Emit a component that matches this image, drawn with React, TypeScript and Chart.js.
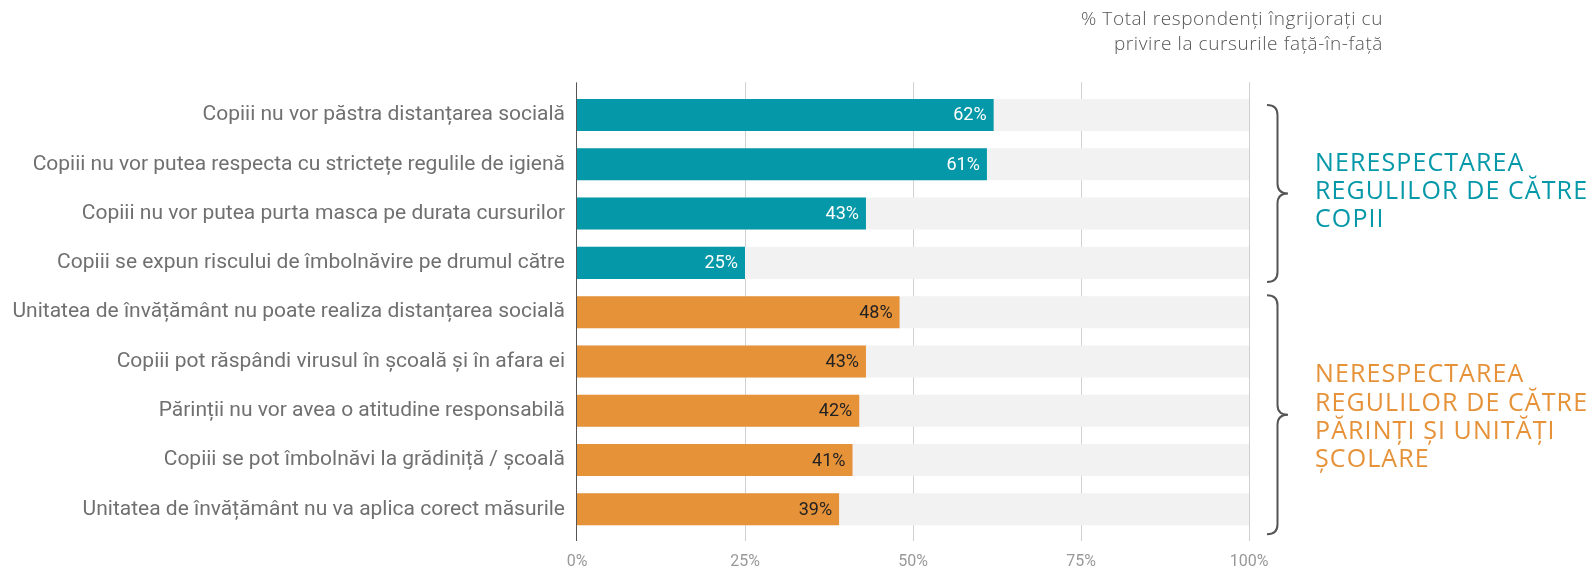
import React, { useEffect, useRef } from 'react';
import { Chart, registerables } from 'chart.js';

Chart.register(...registerables);

const categories = [
  'Copiii nu vor păstra distanțarea socială',
  'Copiii nu vor putea respecta cu strictețe regulile de igienă',
  'Copiii nu vor putea purta masca pe durata cursurilor',
  'Copiii se expun riscului de îmbolnăvire pe drumul către',
  'Unitatea de învățământ nu poate realiza distanțarea socială',
  'Copiii pot răspândi virusul în școală și în afara ei',
  'Părinții nu vor avea o atitudine responsabilă',
  'Copiii se pot îmbolnăvi la grădiniță / școală',
  'Unitatea de învățământ nu va aplica corect măsurile',
];
const values = [62, 61, 43, 25, 48, 43, 42, 41, 39];
const totals = [100, 100, 100, 100, 100, 100, 100, 100, 100];
const groupOf = [0, 0, 0, 0, 1, 1, 1, 1, 1];
const groupLabels = [
  ['NERESPECTAREA', 'REGULILOR DE CĂTRE', 'COPII'],
  ['NERESPECTAREA', 'REGULILOR DE CĂTRE', 'PĂRINȚI ȘI UNITĂȚI', 'ȘCOLARE'],
];
const groupColors = ['#0598a8', '#e69239'];
const valueLabelColors = ['#ffffff', '#222222'];
const xTickStep = 25;
const titleLines = ['% Total respondenți îngrijorați cu', 'privire la cursurile față-în-față'];

const bracePlugin = {
  id: 'decor',
  beforeDatasetsDraw(chart: any) {
    const { ctx, chartArea, scales } = chart;
    const x = scales.x;
    ctx.save();
    ctx.strokeStyle = '#d0d0d0';
    ctx.lineWidth = 1;
    for (let v = xTickStep; v <= 100; v += xTickStep) {
      const px = Math.round(x.getPixelForValue(v)) + 0.5;
      ctx.beginPath();
      ctx.moveTo(px, chartArea.top - 8);
      ctx.lineTo(px, chartArea.bottom + 7);
      ctx.stroke();
    }
    ctx.restore();
  },
  afterDatasetsDraw(chart: any) {
    const { ctx, chartArea, scales } = chart;
    const x = scales.x;
    const y = scales.y;
    ctx.save();
    // axis line at 0
    const x0 = Math.round(x.getPixelForValue(0)) - 0.5;
    ctx.strokeStyle = '#555555';
    ctx.lineWidth = 1;
    ctx.beginPath();
    ctx.moveTo(x0, chartArea.top - 8);
    ctx.lineTo(x0, chartArea.bottom + 7);
    ctx.stroke();

    // value labels
    const meta = chart.getDatasetMeta(1);
    ctx.font = '18px Roboto';
    ctx.textAlign = 'right';
    ctx.textBaseline = 'middle';
    meta.data.forEach((bar: any, i: number) => {
      ctx.fillStyle = valueLabelColors[groupOf[i]];
      ctx.fillText(values[i] + '%', bar.x - 7, bar.y + 1);
    });

    // braces and group labels
    const topOff = [-10, -17];
    const botOff = [19, 25];
    const textOff = [-1.5, 3];
    groupLabels.forEach((lines, g) => {
      const idx = groupOf.map((gg, i) => (gg === g ? i : -1)).filter((i) => i >= 0);
      const y0 = y.getPixelForValue(idx[0]) + topOff[g];
      const y1 = y.getPixelForValue(idx[idx.length - 1]) + botOff[g];
      const ym = (y0 + y1) / 2;
      const xs = chartArea.right + 18;
      const xv = chartArea.right + 28.5;
      const xt = chartArea.right + 39;
      const r = 10;
      ctx.strokeStyle = '#555555';
      ctx.lineWidth = 2;
      ctx.beginPath();
      ctx.moveTo(xs, y0);
      ctx.quadraticCurveTo(xv, y0, xv, y0 + r);
      ctx.lineTo(xv, ym - r);
      ctx.quadraticCurveTo(xv, ym, xt, ym);
      ctx.quadraticCurveTo(xv, ym, xv, ym + r);
      ctx.lineTo(xv, y1 - r);
      ctx.quadraticCurveTo(xv, y1, xs, y1);
      ctx.stroke();

      ctx.fillStyle = groupColors[g];
      ctx.font = '25px "Open Sans"';
      (ctx as any).letterSpacing = '1.1px';
      ctx.textAlign = 'left';
      ctx.textBaseline = 'middle';
      const n = lines.length;
      lines.forEach((ln, i) => {
        ctx.fillText(ln, chartArea.right + 66, ym + textOff[g] + (i - (n - 1) / 2) * 28.3);
      });
      (ctx as any).letterSpacing = '0px';
    });

    // title
    ctx.fillStyle = '#555555';
    ctx.font = '300 19px "Open Sans"';
    (ctx as any).letterSpacing = '0.6px';
    ctx.textAlign = 'right';
    ctx.textBaseline = 'alphabetic';
    titleLines.forEach((ln, i) => {
      ctx.fillText(ln, chartArea.right + 134, 25 + i * 25);
    });
    (ctx as any).letterSpacing = '0px';
    ctx.restore();
  },
};

export default function App() {
  const ref = useRef<HTMLCanvasElement | null>(null);
  useEffect(() => {
    if (!ref.current) return;
    const chart = new Chart(ref.current, {
      type: 'bar',
      data: {
        labels: categories,
        datasets: [
          {
            label: 'Total',
            data: totals,
            backgroundColor: '#f2f2f2',
            order: 2,
            grouped: false,
            barPercentage: 0.65,
            categoryPercentage: 1,
          } as any,
          {
            label: 'Respondenți',
            data: values,
            backgroundColor: values.map((_, i) => groupColors[groupOf[i]]),
            order: 1,
            grouped: false,
            barPercentage: 0.65,
            categoryPercentage: 1,
          } as any,
        ],
      },
      options: {
        indexAxis: 'y',
        animation: false,
        responsive: true,
        maintainAspectRatio: false,
        layout: { padding: { top: 90.35, right: 343, bottom: 0, left: 0 } },
        plugins: { legend: { display: false }, tooltip: { enabled: false } },
        scales: {
          x: {
            min: 0,
            max: 100,
            afterFit: (s: any) => {
              s.height = 33;
            },
            grid: { display: false, drawTicks: false },
            border: { display: false },
            ticks: {
              stepSize: xTickStep,
              callback: (v: any) => v + '%',
              font: { family: 'Roboto', size: 16 },
              color: '#999999',
              padding: 18,
              maxRotation: 0,
            },
          },
          y: {
            afterFit: (s: any) => {
              s.width = 577;
            },
            grid: { display: false, drawTicks: false },
            border: { display: false },
            ticks: {
              font: { family: 'Roboto', size: 21 },
              color: '#707070',
              padding: 12,
              autoSkip: false,
            },
          },
        },
      } as any,
      plugins: [bracePlugin],
    });
    return () => chart.destroy();
  }, []);
  return (
    <div style={{ position: 'absolute', left: 0, top: 0, width: 1592, height: 567 }}>
      <canvas ref={ref} />
    </div>
  );
}
